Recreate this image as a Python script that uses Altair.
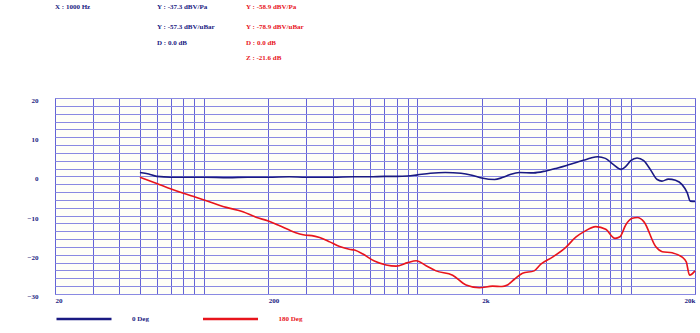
import altair as alt
import pandas as pd

# ---- data ----
series_names = ["0 Deg", "180 Deg"]
series_colors = ["#1a1a82", "#e8141c"]

freq_0 = [50, 55, 60, 70, 80, 100, 130, 160, 200, 250, 300, 400, 500, 600, 700,
          800, 900, 1000, 1150, 1350, 1600, 1800, 2000, 2300, 2500, 2700, 3000,
          3500, 4000, 4500, 5000, 5500, 6000, 6500, 7000, 7600, 8300, 9000, 9500,
          10000, 10700, 11500, 12400, 13300, 14000, 15000, 16200, 17400, 18400,
          19000, 20000]
lvl_0 = [1.0, 0.6, 0.0, -0.2, -0.2, -0.2, -0.3, -0.2, -0.2, -0.1, -0.2, -0.2, -0.1,
         -0.1, 0.0, 0.0, 0.1, 0.4, 0.8, 1.0, 0.8, 0.3, -0.4, -0.8, -0.3, 0.4, 1.0,
         0.9, 1.4, 2.1, 2.8, 3.5, 4.1, 4.7, 5.0, 4.6, 3.0, 1.8, 2.6, 4.0, 4.7, 4.0,
         1.6, -0.8, -1.2, -0.7, -1.0, -2.1, -4.2, -6.3, -6.4]

freq_180 = [50, 60, 70, 80, 90, 100, 127, 152, 175, 200, 226, 256, 300, 320, 348,
            388, 432, 479, 507, 555, 628, 713, 794, 900, 986, 1098, 1222, 1462,
            1690, 1950, 2250, 2490, 2640, 2840, 3108, 3525, 3788, 4294, 4958, 5524,
            6040, 6852, 7632, 8436, 8900, 9465, 10163, 10740, 11532, 13080, 14040,
            15640, 17420, 18200, 18860, 20000]
lvl_180 = [-0.2, -1.8, -3.2, -4.3, -5.2, -6.0, -7.9, -9.0, -10.4, -11.4, -12.6,
           -13.9, -15.0, -15.1, -15.6, -16.7, -17.9, -18.6, -18.8, -19.8, -21.6,
           -22.6, -22.9, -22.0, -21.5, -22.8, -24.1, -25.2, -27.7, -28.4, -28.0,
           -28.1, -27.7, -26.3, -24.7, -24.1, -22.4, -20.6, -18.1, -15.5, -14.1,
           -12.8, -13.5, -15.8, -15.4, -12.4, -10.7, -10.5, -11.6, -17.9, -19.2,
           -19.5, -20.6, -21.8, -25.2, -24.1]

x_grid = [20, 30, 40, 50, 60, 70, 80, 90, 100, 200, 300, 400, 500, 600, 700, 800,
          900, 1000, 2000, 3000, 4000, 5000, 6000, 7000, 8000, 9000, 10000, 20000]
x_label_values = [20, 200, 2000, 20000]
x_label_texts = ["20", "200", "2k", "20k"]
y_grid = list(range(-30, 21, 2))

header_blue = ["X : 1000 Hz", "Y : -37.3 dBV/Pa", "Y : -57.3 dBV/uBar", "D : 0.0 dB"]
header_red = ["Y : -58.9 dBV/Pa", "Y : -78.9 dBV/uBar", "D : 0.0 dB", "Z : -21.6 dB"]

# ---- build table ----
df = pd.DataFrame({
    "freq": freq_0 + freq_180,
    "level": lvl_0 + lvl_180,
    "series": [series_names[0]] * len(freq_0) + [series_names[1]] * len(freq_180),
})

NAVY = series_colors[0]
RED = series_colors[1]
GRID_V = "#6464d6"
GRID_H = "#8a8ae2"
FONT = "Liberation Serif"

label_expr = " : ".join(
    f"datum.value == {v} ? '{t}'" for v, t in zip(x_label_values, x_label_texts)
) + " : ''"

x_enc = alt.X(
    "freq:Q",
    scale=alt.Scale(type="log", domain=[20, 20000], nice=False),
    axis=alt.Axis(
        values=x_grid, labelExpr=label_expr, title=None, grid=True,
        gridColor=GRID_V, gridWidth=1, gridOpacity=1, ticks=False, tickSize=0,
        domain=False, labelFont=FONT, labelFontSize=7, labelFontWeight="bold",
        labelColor=NAVY, labelPadding=2, labelBaseline="top", labelOverlap=False,
        labelAlign={"condition": {"test": "datum.value >= 20000", "value": "right"},
                    "value": "left"},
    ),
)
y_enc = alt.Y(
    "level:Q",
    scale=alt.Scale(domain=[-30, 20], nice=False, zero=False),
    axis=alt.Axis(
        values=y_grid, labelExpr="datum.value % 10 == 0 ? datum.label : ''",
        title=None, grid=True, gridColor=GRID_H, gridWidth=1, gridOpacity=1,
        ticks=False, tickSize=0, domain=False, labelFont=FONT, labelFontSize=7,
        labelFontWeight="bold", labelColor=NAVY, labelPadding=17,
        labelOffset=2.5, labelOverlap=False,
    ),
)

lines = alt.Chart(df).mark_line(strokeWidth=1.6, interpolate="monotone").encode(
    x=x_enc,
    y=y_enc,
    color=alt.Color(
        "series:N",
        scale=alt.Scale(domain=series_names, range=series_colors),
        legend=alt.Legend(
            title=None, orient="none", legendX=0, legendY=192,
            direction="horizontal", symbolType="stroke", symbolSize=3025,
            symbolStrokeWidth=2.5, labelOffset=19, columnPadding=48.5, padding=0,
            labelFont=FONT, labelFontSize=7, labelFontWeight="bold",
            labelColor={"expr": f"datum.label == '{series_names[1]}' ? '{RED}' : '{NAVY}'"},
        ),
    ),
    detail="series:N",
)

layers = [lines]
blue_pos = [(0, -91), (102, -91), (102, -71), (102, -55)]
red_pos = [(191, -91), (191, -71), (191, -55), (191, -40)]
for txt, (px, py) in zip(header_blue, blue_pos):
    layers.append(
        alt.Chart(pd.DataFrame({"t": [txt]})).mark_text(
            font=FONT, fontSize=7, fontWeight="bold", color=NAVY,
            align="left", baseline="middle",
        ).encode(x=alt.value(px), y=alt.value(py), text="t:N")
    )
for txt, (px, py) in zip(header_red, red_pos):
    layers.append(
        alt.Chart(pd.DataFrame({"t": [txt]})).mark_text(
            font=FONT, fontSize=7, fontWeight="bold", color=RED,
            align="left", baseline="middle",
        ).encode(x=alt.value(px), y=alt.value(py), text="t:N")
    )

chart = alt.layer(*layers).properties(
    width=640, height=196,
    autosize=alt.AutoSizeParams(type="none"),
    padding={"left": 55, "top": 98, "right": 5, "bottom": 39},
).configure(background="white").configure_view(
    fill="#fffff7", stroke=GRID_V, strokeWidth=1
)

chart.save("out.html", embed_options={"renderer": "svg", "actions": False})
